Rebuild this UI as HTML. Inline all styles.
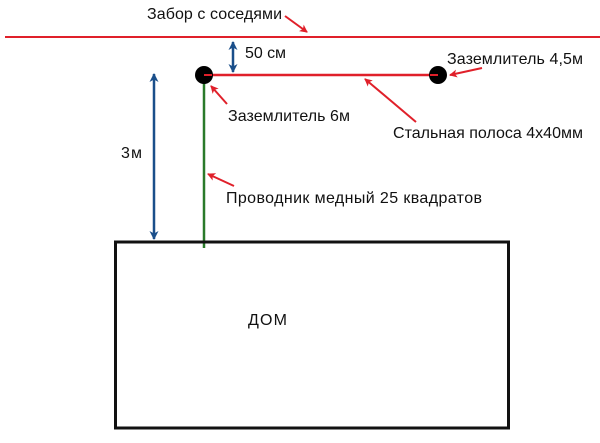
<!DOCTYPE html>
<html><head><meta charset="utf-8"><style>html,body{margin:0;padding:0;background:#fff}</style></head>
<body>
<svg width="600" height="438" viewBox="0 0 600 438" xmlns="http://www.w3.org/2000/svg" font-family="Liberation Sans, DejaVu Sans, sans-serif" font-size="16" fill="#111">
<defs>
<marker id="r" markerWidth="8" markerHeight="8" refX="7" refY="4" orient="auto" markerUnits="userSpaceOnUse"><path d="M0,0 L8,4 L0,8 L2,4 Z" fill="#e0202a"/></marker>
<marker id="b" markerWidth="9" markerHeight="9" refX="8" refY="4.5" orient="auto-start-reverse" markerUnits="userSpaceOnUse"><path d="M0,0 L9,4.5 L0,9 L2.5,4.5 Z" fill="#1a4f8a"/></marker>
</defs>
<line x1="5" y1="37" x2="600" y2="37" stroke="#e0202a" stroke-width="2"/>
<text x="147" y="19" textLength="135">Забор с соседями</text>
<line x1="285" y1="16" x2="307" y2="32" stroke="#e0202a" stroke-width="2" marker-end="url(#r)"/>
<line x1="233" y1="42" x2="233" y2="72" stroke="#1a4f8a" stroke-width="2.5" marker-start="url(#b)" marker-end="url(#b)"/>
<text x="245" y="58" textLength="41">50 см</text>
<line x1="154" y1="74" x2="154" y2="239" stroke="#1a4f8a" stroke-width="2.5" marker-start="url(#b)" marker-end="url(#b)"/>
<text x="121" y="158" textLength="21">3м</text>
<line x1="204" y1="75" x2="204" y2="248" stroke="#2a7a2a" stroke-width="2.5"/>
<line x1="204" y1="75" x2="438" y2="75" stroke="#e0202a" stroke-width="2.5"/>
<circle cx="204" cy="75" r="9" fill="#000"/>
<circle cx="438" cy="75" r="9" fill="#000"/>
<line x1="204" y1="75" x2="212" y2="75" stroke="#e0202a" stroke-width="2"/>
<line x1="430" y1="75" x2="438" y2="75" stroke="#e0202a" stroke-width="2"/>
<text x="447" y="64" textLength="136">Заземлитель 4,5м</text>
<line x1="482" y1="68" x2="450" y2="75" stroke="#e0202a" stroke-width="2" marker-end="url(#r)"/>
<text x="228" y="121" textLength="122">Заземлитель 6м</text>
<line x1="227" y1="104" x2="211" y2="86" stroke="#e0202a" stroke-width="2" marker-end="url(#r)"/>
<text x="393" y="138" textLength="190">Стальная полоса 4х40мм</text>
<line x1="416" y1="122" x2="365" y2="79" stroke="#e0202a" stroke-width="2" marker-end="url(#r)"/>
<text x="226" y="203" textLength="256">Проводник медный 25 квадратов</text>
<line x1="234" y1="186" x2="208" y2="174" stroke="#e0202a" stroke-width="2" marker-end="url(#r)"/>
<rect x="115.5" y="242" width="393" height="186" fill="none" stroke="#111" stroke-width="3"/>
<text x="248" y="325" textLength="39">ДОМ</text>
</svg>
</body></html>
